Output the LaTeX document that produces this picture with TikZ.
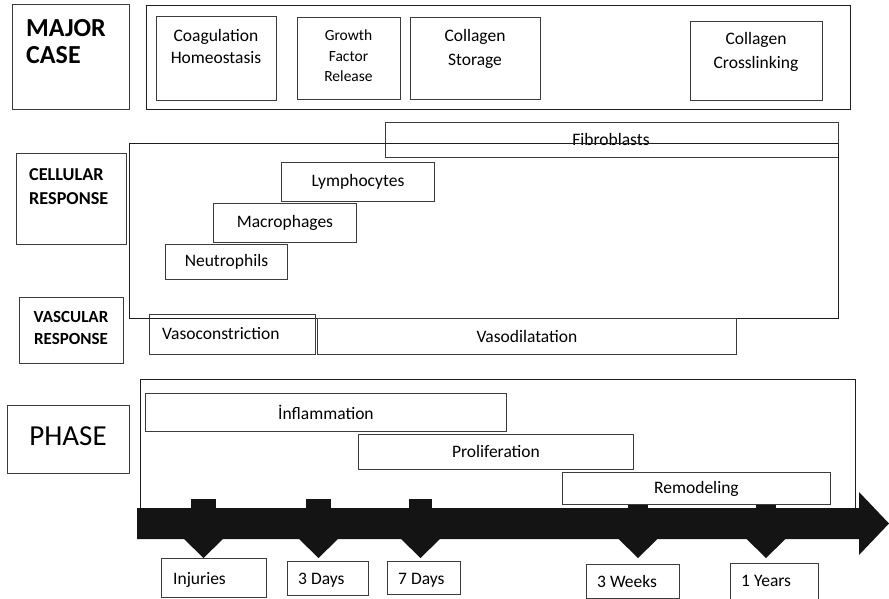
\documentclass[tikz,border=0pt]{standalone}
\usepackage{fontspec}
\setmainfont{Carlito}
\definecolor{lineg}{HTML}{3C3C3C}
\definecolor{lined}{HTML}{1E1E1E}
\definecolor{arrowc}{HTML}{141414}
\tikzset{
  box/.style={draw=lineg, line width=0.9pt, inner sep=0pt, anchor=north west},
  outer/.style={draw=lined, line width=1.3pt},
  txt/.style={inner sep=0pt, font=\fontsize{17.5}{21.5}\selectfont, align=center},
  small/.style={inner sep=0pt, font=\fontsize{15.5}{20.5}\selectfont, align=center},
  head/.style={inner sep=0pt, font=\bfseries\fontsize{18.2}{24}\selectfont, align=left},
  blk/.style={fill=arrowc, draw=none},
}
% \bx[opts]{name}{x1}{y1}{x2}{y2}{text}
\newcommand\bx[7][]{\node[box,txt,#1, minimum width={(#5-#3)*1pt}, minimum height={(#6-#4)*1pt}] (#2) at (#3,#4) {};
  \node[txt] (#2-t) at (#2.center) {#7};}
\begin{document}
\begin{tikzpicture}[x=1pt,y=-1pt]
\useasboundingbox (0,0) rectangle (889,599);

% ---- Major case row
\bx{majorbox}{12}{4}{129}{109}{}
\node[inner sep=0pt, font=\bfseries\fontsize{26}{27}\selectfont, align=left, anchor=north west] (major) at (26,19.3) {MAJOR\\CASE};
\bx[outer]{topouter}{146}{5}{850}{109}{}
\bx{coag}{156}{16}{276}{100}{}
\node[txt, anchor=north] (coagt) at (216,29.3) {Coagulation\\Homeostasis};
\bx{growth}{297}{17}{400}{99}{}
\node[small, anchor=north] (growtht) at (348.5,29.7) {Growth\\Factor\\Release};
\bx{storage}{410}{17}{540}{99}{}
\node[txt, anchor=north, font=\fontsize{17.5}{24}\selectfont] (storaget) at (475,29.3) {Collagen\\Storage};
\bx{cross}{690}{21}{822}{100}{}
\node[txt, anchor=north, font=\fontsize{17.5}{23.5}\selectfont] (crosst) at (756,32.6) {Collagen\\Crosslinking};

% ---- Cellular response
\bx{fibro}{385}{122}{838}{157}{}
\node[txt] (fibrot) at (611,139) {Fibroblasts};
\bx[outer]{cellouter}{129}{143}{838}{318}{}
\bx{cellbox}{16}{153}{126}{244}{}
\node[head, anchor=north west] (cellt) at (29,168.3) {CELLULAR\\RESPONSE};
\bx{lymph}{281}{162}{434}{201}{Lymphocytes}
\bx{macro}{213}{203}{356}{242}{Macrophages}
\bx{neutro}{165}{244}{287}{279}{Neutrophils}

% ---- Vascular response
\bx{vascbox}{19}{297}{123}{363}{}
\node[head, align=center, anchor=north, font=\bfseries\fontsize{17}{22.3}\selectfont] (vasct) at (71,311) {VASCULAR\\RESPONSE};
\bx{vcon}{149}{314}{315}{354}{}
\node[txt, anchor=west] (vcont) at (162,334) {Vasoconstriction};
\bx{vdil}{317}{318}{736}{354}{Vasodilatation}

% ---- Phase
\bx{phasebox}{7}{405}{129}{473}{}
\node[inner sep=0pt, font=\fontsize{29}{30}\selectfont] (phaset) at (68,436.5) {PHASE};
\bx[outer]{phaseouter}{140}{379}{855}{520}{}
\bx{infl}{145}{393}{506}{431}{İnflammation}
\bx{prolif}{358}{434}{633}{469}{Proliferation}

% ---- Time arrow
\fill[blk] (137,508) -- (859,508) -- (859,492) -- (889,523.5) -- (859,555) -- (859,539) -- (137,539) -- cycle;
\foreach \c/\w in {203.5/12.5, 318.5/12.5, 420.5/11.5, 638/10, 766/10}{
  \fill[blk] (\c-\w,499) rectangle (\c+\w,508.5);
  \fill[blk] (\c-20,538.5) -- (\c+20,538.5) -- (\c,558) -- cycle;
}
\bx[fill=white]{remod}{562}{472}{830}{504}{Remodeling}

% ---- Time labels
\bx{inj}{161}{558}{266}{597}{}
\node[txt, anchor=base west] (injt) at (173,584) {Injuries};
\bx{d3}{287}{561}{368}{595}{}
\node[txt, anchor=base west] (d3t) at (298,584) {3 Days};
\bx{d7}{387}{561}{460}{594}{}
\node[txt, anchor=base west] (d7t) at (398,584) {7 Days};
\bx{w3}{586}{564}{679}{598}{}
\node[txt, anchor=base west] (w3t) at (597,587) {3 Weeks};
\bx{y1}{730}{563}{818}{599}{}
\node[txt, anchor=base west] (y1t) at (741,586) {1 Years};
\end{tikzpicture}
\end{document}
